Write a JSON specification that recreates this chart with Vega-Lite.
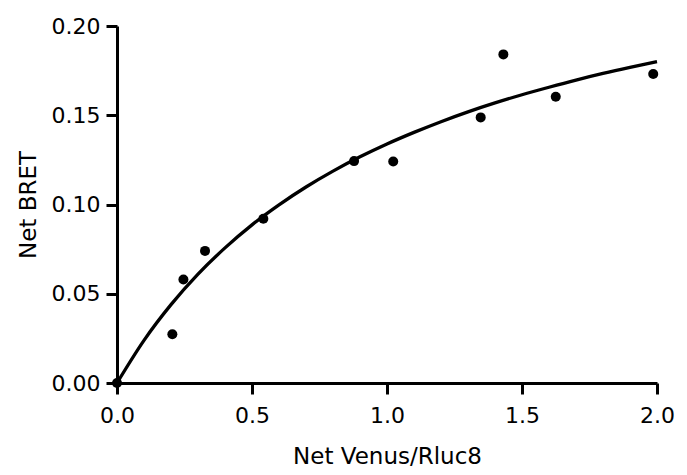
{
  "$schema": "https://vega.github.io/schema/vega-lite/v6.json",
  "width": 540,
  "height": 357,
  "autosize": "none",
  "padding": {"left": 117, "top": 26, "right": 30, "bottom": 92},
  "background": "white",
  "config": {
    "view": {"stroke": null},
    "axis": {
      "domainColor": "black",
      "domainWidth": 3,
      "tickColor": "black",
      "tickWidth": 3,
      "tickSize": 11,
      "grid": false,
      "labelFlush": false,
      "labelFont": "DejaVu Sans",
      "labelFontSize": 22,
      "labelColor": "black",
      "titleFont": "DejaVu Sans",
      "titleFontSize": 23,
      "titleFontWeight": "normal",
      "titleColor": "black"
    }
  },
  "datasets": {
    "points": [
      {"x": 0.0, "y": 0.0},
      {"x": 0.205, "y": 0.0273},
      {"x": 0.246, "y": 0.058},
      {"x": 0.326, "y": 0.074},
      {"x": 0.542, "y": 0.092},
      {"x": 0.878, "y": 0.1243},
      {"x": 1.023, "y": 0.1241},
      {"x": 1.347, "y": 0.1488},
      {"x": 1.431, "y": 0.1841},
      {"x": 1.625, "y": 0.1604},
      {"x": 1.986, "y": 0.1731}
    ],
    "curve": [
      {"x": 0.0, "y": 0.0},
      {"x": 0.1, "y": 0.0239},
      {"x": 0.2, "y": 0.0439},
      {"x": 0.3, "y": 0.061},
      {"x": 0.4, "y": 0.0757},
      {"x": 0.5, "y": 0.0886},
      {"x": 0.6, "y": 0.0998},
      {"x": 0.7, "y": 0.1098},
      {"x": 0.8, "y": 0.1187},
      {"x": 0.9, "y": 0.1267},
      {"x": 1.0, "y": 0.1339},
      {"x": 1.1, "y": 0.1404},
      {"x": 1.2, "y": 0.1464},
      {"x": 1.3, "y": 0.1519},
      {"x": 1.4, "y": 0.1569},
      {"x": 1.5, "y": 0.1615},
      {"x": 1.6, "y": 0.1657},
      {"x": 1.7, "y": 0.1697},
      {"x": 1.8, "y": 0.1734},
      {"x": 1.9, "y": 0.1768},
      {"x": 2.0, "y": 0.18}
    ]
  },
  "layer": [
    {
      "data": {"name": "curve"},
      "mark": {"type": "line", "color": "black", "strokeWidth": 3.3, "interpolate": "monotone"},
      "encoding": {
        "x": {
          "field": "x", "type": "quantitative",
          "scale": {"domain": [0, 2], "nice": false, "zero": false},
          "axis": {"values": [0, 0.5, 1, 1.5, 2], "format": ".1f", "title": "Net Venus/Rluc8", "labelPadding": 11, "titlePadding": 19}
        },
        "y": {
          "field": "y", "type": "quantitative",
          "scale": {"domain": [0, 0.2], "nice": false},
          "axis": {"values": [0, 0.05, 0.1, 0.15, 0.2], "format": ".2f", "title": "Net BRET", "labelPadding": 6, "titlePadding": 11}
        }
      }
    },
    {
      "data": {"name": "points"},
      "mark": {"type": "point", "filled": true, "color": "black", "opacity": 1, "size": 100, "shape": "circle"},
      "encoding": {
        "x": {"field": "x", "type": "quantitative"},
        "y": {"field": "y", "type": "quantitative"}
      }
    }
  ]
}
